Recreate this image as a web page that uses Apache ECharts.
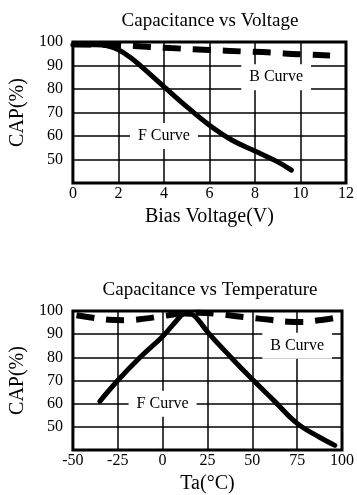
<!DOCTYPE html>
<html>
<head>
<meta charset="utf-8">
<script src="https://cdn.jsdelivr.net/npm/echarts@6/dist/echarts.min.js"></script>
<style>html,body{margin:0;padding:0;background:#fff;}#c{width:357px;height:495px;}</style>
</head>
<body>
<div id="c"></div>
<script>
// ---- data ----
const voltTitle = 'Capacitance vs Voltage';
const tempTitle = 'Capacitance vs Temperature';
const voltAxisName = 'Bias Voltage(V)';
const tempAxisName = 'Ta(°C)';
const yAxisName = 'CAP(%)';
const curveNames = ['B Curve', 'F Curve'];

const voltB = [[0,99],[1,98.9],[2,98.7],[3.4,97.9],[4.3,97.4],[6,96.6],[7.4,96],[8.7,95.5],[9.9,94.8],[11.3,94.3]];
const voltF = [[0,98.8],[1,98.8],[1.5,98.4],[2,96.7],[2.5,93.6],[3,89.6],[4,81],[5,72.5],[6,64.6],[7,58.2],[8,53.6],[9,49],[9.6,45.5]];

const tempB = [[-48,98.2],[-40,97.2],[-30,96.2],[-20,96],[-10,96.7],[0,97.8],[10,98.8],[20,99.2],[30,98.8],[40,97.8],[50,97],[60,96.2],[70,95.4],[78,95.3],[87,96],[96,97]];
const tempF = [[-35,61],[-25,70],[-12.5,80],[0,89],[8,96],[12,98.7],[16,98.6],[20,96],[25,91],[37.5,80.5],[50,70.5],[62.5,61],[75,51.5],[87.5,45.5],[96,42]];

const voltLabelAt = [[8.93,85],[4,60]];
const tempLabelAt = [[75,85],[0,60]];

// ---- chart ----
const FONT = 'Liberation Serif';
const chart = echarts.init(document.getElementById('c'), null, {renderer:'canvas'});

function xAxisCfg(gridIndex, min, max, interval, name) {
  return {
    type:'value', gridIndex, min, max, interval, name,
    nameLocation:'middle', nameGap:24,
    nameTextStyle:{fontFamily:FONT, fontSize:20, color:'#000'},
    axisLine:{show:false}, axisTick:{show:false},
    axisLabel:{fontFamily:FONT, fontSize:16, color:'#000', margin:3},
    splitLine:{show:true, lineStyle:{color:'#000', width:1.5}}
  };
}
function yAxisCfg(gridIndex) {
  return {
    type:'value', gridIndex, min:40, max:100, interval:10, name:yAxisName,
    nameLocation:'middle', nameGap:37, nameRotate:90,
    nameTextStyle:{fontFamily:FONT, fontSize:20, color:'#000'},
    axisLine:{show:false}, axisTick:{show:false},
    axisLabel:{fontFamily:FONT, fontSize:16, color:'#000', margin:10, showMinLabel:false},
    splitLine:{show:true, lineStyle:{color:'#000', width:1.5}}
  };
}
function lineSeries(idx, data, dashed) {
  return {
    type:'line', xAxisIndex:idx, yAxisIndex:idx, data, smooth:0.4,
    showSymbol:false, symbol:'none', z:3,
    lineStyle: dashed ? {color:'#000', width:6, type:[18,12], cap:'butt'} : {color:'#000', width:5, cap:'round'}
  };
}
function labelSeries(idx, pos) {
  return {
    type:'scatter', xAxisIndex:idx, yAxisIndex:idx, symbolSize:0, z:4,
    itemStyle:{opacity:1, color:'#000'},
    data: pos.map((p,i)=>({value:p, name:curveNames[i]})),
    label:{show:true, position:'inside', formatter:p=>p.name, opacity:1,
      fontFamily:FONT, fontSize:16, color:'#000', backgroundColor:'#fff',
      padding:[5,8], lineHeight:16},
    emphasis:{disabled:true},
    silent:true
  };
}

chart.setOption({
  animation:false,
  backgroundColor:'#fff',
  title:[
    {text:voltTitle, left:205, textAlign:'center', top:7, textStyle:{fontFamily:FONT, fontSize:19, fontWeight:'normal', color:'#000'}},
    {text:tempTitle, left:205, textAlign:'center', top:276, textStyle:{fontFamily:FONT, fontSize:19, fontWeight:'normal', color:'#000'}}
  ],
  grid:[
    {left:63, top:42, width:284, height:141, show:true, borderColor:'#000', borderWidth:3, backgroundColor:'transparent'},
    {left:63, top:311, width:282, height:141, show:true, borderColor:'#000', borderWidth:3, backgroundColor:'transparent'}
  ],
  xAxis:[ xAxisCfg(0,0,12,2,voltAxisName), xAxisCfg(1,-50,100,25,tempAxisName) ],
  yAxis:[ yAxisCfg(0), yAxisCfg(1) ],
  series:[
    lineSeries(0, voltB, true),
    lineSeries(0, voltF, false),
    labelSeries(0, voltLabelAt),
    lineSeries(1, tempB, true),
    lineSeries(1, tempF, false),
    labelSeries(1, tempLabelAt)
  ]
});
</script>
</body>
</html>
